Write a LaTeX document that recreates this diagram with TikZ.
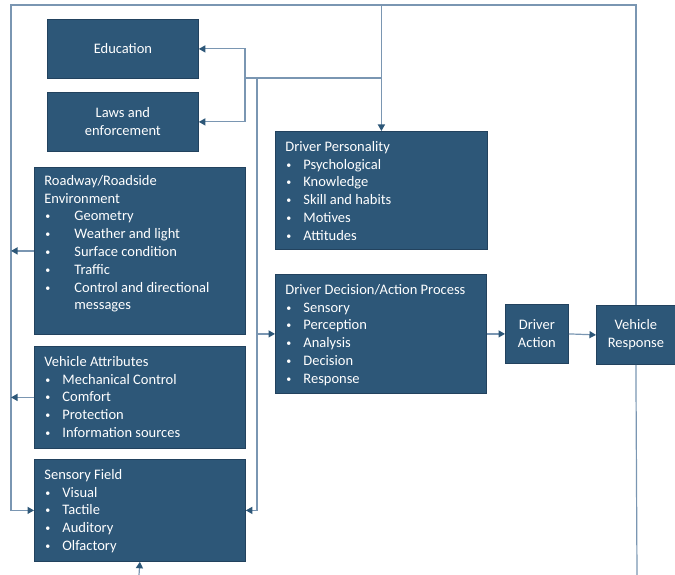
\documentclass[tikz,border=0pt]{standalone}
\usepackage{fontspec}
\setmainfont{Carlito}
\usetikzlibrary{arrows.meta}

\definecolor{boxblue}{RGB}{45,87,120}
\definecolor{boxedge}{RGB}{34,66,94}
\definecolor{linkblue}{RGB}{122,150,178}
\definecolor{tipblue}{RGB}{45,87,120}

% bullet lines and top-aligned box text
\newcommand{\dotmark}{\raisebox{1pt}{\fontsize{10}{10}\selectfont\textbullet}}
\newcommand{\bl}[1]{\makebox[18pt][l]{\hspace{1pt}\dotmark}#1}
\newcommand{\blw}[1]{\makebox[30pt][l]{\hspace{1pt}\dotmark}#1}
\newcommand{\boxtext}[3]{\parbox[c][#2][t]{#1}{\raggedright\strut #3}}

\begin{document}
\begin{tikzpicture}[x=1pt,y=-1pt,
        block/.style={draw=boxedge,fill=boxblue,text=white,line width=0.8pt,
            anchor=north west,inner sep=0pt,align=center,
            font=\fontsize{14.5}{17.8}\selectfont},
        listbox/.style={block,align=left,inner xsep=10pt,inner ysep=7.5pt},
        wire/.style={draw=linkblue,line width=1.2pt},
        link/.style={wire,-{Triangle[length=6.5pt,width=7pt,color=tipblue]}}]
    \useasboundingbox (0,0) rectangle (675,575);

    \node[block,minimum width=151pt,minimum height=59pt] (edu) at (47,19) {Education};
    \node[block,minimum width=151pt,minimum height=59pt] (laws) at (47,92) {Laws and\\enforcement};

    \node[listbox,inner ysep=5.5pt] (road) at (34,167) {\boxtext{191pt}{156pt}{Roadway/Roadside\\Environment\\
        \blw{Geometry}\\\blw{Weather and light}\\\blw{Surface condition}\\\blw{Traffic}\\
        \blw{Control and directional}\\\hspace*{30pt}messages}};
    \node[listbox] (veh) at (34,346) {\boxtext{191pt}{87pt}{Vehicle Attributes\\
        \bl{Mechanical Control}\\\bl{Comfort}\\\bl{Protection}\\\bl{Information sources}}};
    \node[listbox] (sens) at (34,459) {\boxtext{191pt}{87pt}{Sensory Field\\
        \bl{Visual}\\\bl{Tactile}\\\bl{Auditory}\\\bl{Olfactory}}};

    \node[listbox] (pers) at (275,131) {\boxtext{192pt}{103pt}{Driver Personality\\
        \bl{Psychological}\\\bl{Knowledge}\\\bl{Skill and habits}\\\bl{Motives}\\\bl{Attitudes}}};
    \node[listbox] (proc) at (275,274) {\boxtext{191pt}{104pt}{Driver Decision/Action Process\\
        \bl{Sensory}\\\bl{Perception}\\\bl{Analysis}\\\bl{Decision}\\\bl{Response}}};

    \node[block,minimum width=63pt,minimum height=59pt] (act) at (505,304) {Driver\\Action};
    \node[block,minimum width=79pt,minimum height=59pt] (resp) at (596,305) {Vehicle\\Response};

    \coordinate (loopnw) at (11,5);
    \coordinate (fork) at (245,78);
    \coordinate (spine) at (257,78);
    \coordinate (infeed) at (139,575);
    \coordinate (outfeed) at (637,575);

    % feedback loop
    \draw[link] (resp.north) |- (loopnw) |- (sens.west);
    \draw[link] (pers.north |- loopnw) -- (pers.north);
    \draw[wire] (pers.north |- fork) -- (fork);
    \draw[link] (fork) |- (edu.east);
    \draw[link] (fork) |- (laws.east);
    \draw[link] (spine) |- (sens.east);
    \draw[link] (spine |- proc.west) -- (proc.west);

    \draw[link] (road.west) -- (road.west -| loopnw);
    \draw[link] (veh.west) -- (veh.west -| loopnw);
    \draw[link] (infeed) -- (sens.south);

    \draw[link] (proc.east) -- (act.west);
    \draw[link] (act.east) -- (resp.west);
    \draw[wire] (resp.south) -- (outfeed);
\end{tikzpicture}
\end{document}
